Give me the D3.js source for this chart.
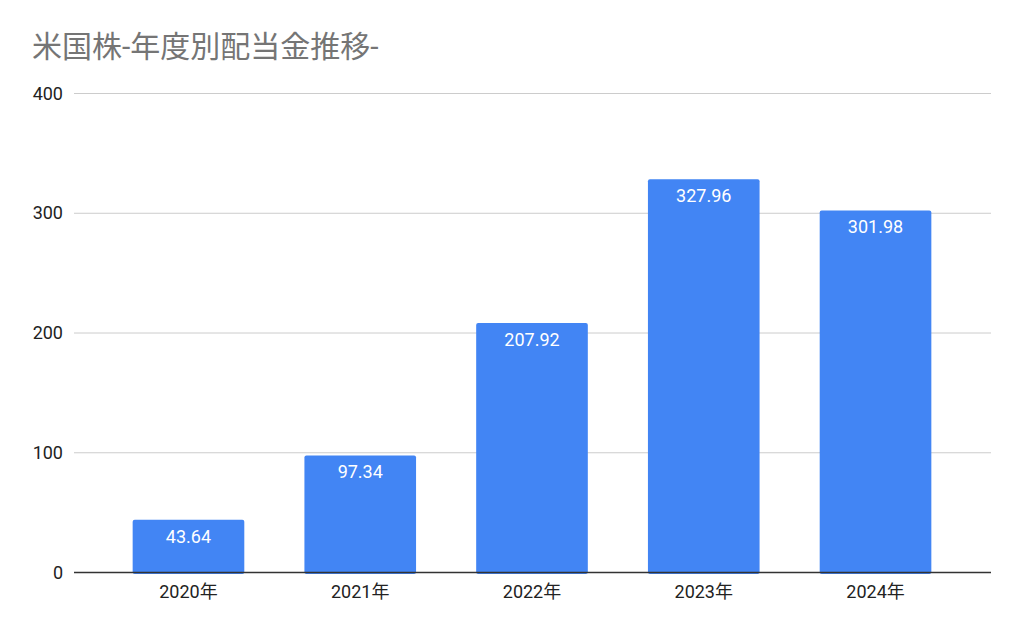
<!DOCTYPE html>
<html>
<head>
<meta charset="utf-8">
<script src="https://cdn.jsdelivr.net/npm/d3@7"></script>
<style>
  body { margin: 0; background: #fff; }
  svg text { font-family: Roboto, "Noto Sans CJK JP", sans-serif; }
</style>
</head>
<body>
<svg id="chart" width="1024" height="633"></svg>
<script>
var years = ["2020年", "2021年", "2022年", "2023年", "2024年"]
var dividends = [43.64, 97.34, 207.92, 327.96, 301.98]
var y_ticks = [0, 100, 200, 300, 400]
var chart_title = "米国株-年度別配当金推移-"

var svg = d3.select("#chart")

// plot area
var left = 74, right = 991, top_y = 93, bottom_y = 572

var x = d3.scaleBand()
    .domain(years)
    .range([102.6, 961.4])
    .paddingInner(0.35)
    .paddingOuter(0.175)

var y = d3.scaleLinear()
    .domain([0, 400])
    .range([bottom_y, top_y])

svg.append("text")
    .attr("x", 32)
    .attr("y", 57)
    .attr("font-size", "30px")
    .attr("fill", "#757575")
    .text(chart_title)

// gridlines
svg.append("g")
    .selectAll("line")
    .data(y_ticks.filter(function (d) { return d > 0 }))
    .join("line")
    .attr("x1", left)
    .attr("x2", right)
    .attr("y1", function (d) { return y(d) + 0.5 })
    .attr("y2", function (d) { return y(d) + 0.5 })
    .attr("stroke", "#cccccc")
    .attr("stroke-width", 1)

// y labels
svg.append("g")
    .selectAll("text")
    .data(y_ticks)
    .join("text")
    .attr("x", 63)
    .attr("y", function (d) { return y(d) + 6.5 })
    .attr("text-anchor", "end")
    .attr("font-size", "18px")
    .attr("fill", "#222")
    .text(function (d) { return d })

// bars
svg.append("g")
    .selectAll("rect")
    .data(dividends)
    .join("rect")
    .attr("x", function (d, i) { return x(years[i]) })
    .attr("y", function (d) { return y(d) })
    .attr("width", x.bandwidth())
    .attr("height", function (d) { return bottom_y - y(d) + 2 })
    .attr("rx", 2)
    .attr("fill", "#4285f4")

// bar labels
svg.append("g")
    .selectAll("text")
    .data(dividends)
    .join("text")
    .attr("x", function (d, i) { return x(years[i]) + x.bandwidth() / 2 })
    .attr("y", function (d) { return y(d) + 23 })
    .attr("text-anchor", "middle")
    .attr("font-size", "18px")
    .attr("fill", "#ffffff")
    .text(function (d) { return d.toFixed(2) })

// baseline
svg.append("line")
    .attr("x1", left)
    .attr("x2", right)
    .attr("y1", bottom_y + 0.5)
    .attr("y2", bottom_y + 0.5)
    .attr("stroke", "#333333")
    .attr("stroke-width", 1.5)

// x labels
svg.append("g")
    .selectAll("text")
    .data(years)
    .join("text")
    .attr("x", function (d) { return x(d) + x.bandwidth() / 2 })
    .attr("y", 598)
    .attr("text-anchor", "middle")
    .attr("font-size", "18px")
    .attr("fill", "#222")
    .text(function (d) { return d })
</script>
</body>
</html>
